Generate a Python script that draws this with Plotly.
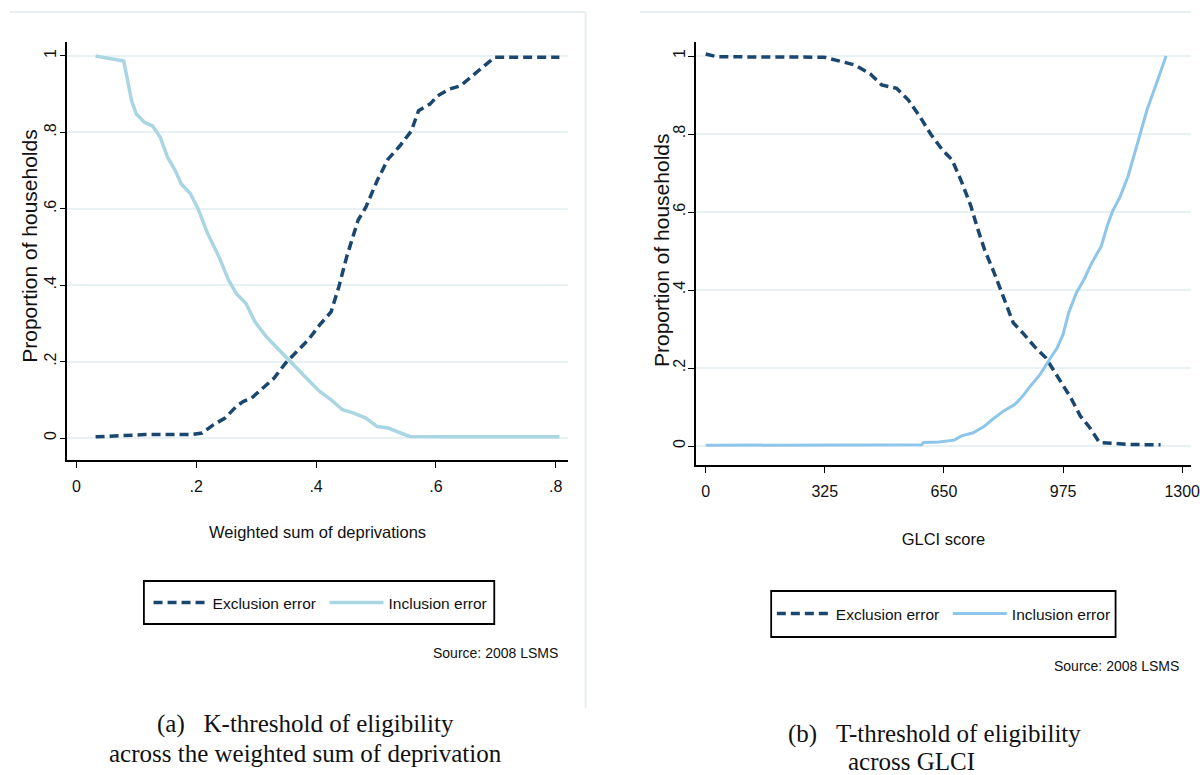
import plotly.graph_objects as go

# ---------------- Data: panel (a) ----------------
a_excl_x = [0.032, 0.114, 0.19, 0.21, 0.229, 0.248, 0.267, 0.279, 0.292, 0.311, 0.33, 0.349, 0.368, 0.387,
            0.406, 0.425, 0.438, 0.451, 0.47, 0.483, 0.502, 0.52, 0.54, 0.559, 0.571, 0.59, 0.603, 0.622,
            0.641, 0.66, 0.68, 0.698, 0.806]
a_excl_y = [0.003, 0.009, 0.009, 0.013, 0.035, 0.052, 0.083, 0.096, 0.104, 0.13, 0.157, 0.196, 0.226, 0.257,
            0.296, 0.33, 0.396, 0.474, 0.57, 0.604, 0.674, 0.73, 0.765, 0.804, 0.857, 0.874, 0.896, 0.913,
            0.922, 0.948, 0.974, 0.997, 0.997]
a_incl_x = [0.032, 0.063, 0.079, 0.092, 0.10, 0.114, 0.127, 0.14, 0.152, 0.165, 0.175, 0.19, 0.203, 0.219,
            0.238, 0.254, 0.267, 0.283, 0.298, 0.317, 0.343, 0.368, 0.387, 0.406, 0.425, 0.444, 0.463, 0.483,
            0.502, 0.52, 0.54, 0.556, 0.635, 0.806]
a_incl_y = [1.0, 0.99, 0.987, 0.883, 0.848, 0.826, 0.817, 0.787, 0.735, 0.70, 0.665, 0.64, 0.60, 0.535,
            0.474, 0.413, 0.378, 0.352, 0.304, 0.265, 0.222, 0.183, 0.152, 0.122, 0.10, 0.074, 0.065, 0.052,
            0.03, 0.026, 0.013, 0.004, 0.003, 0.003]

# ---------------- Data: panel (b) ----------------
b_excl_x = [0, 31, 323, 365, 407, 449, 480, 521, 553, 584, 615, 646, 672, 698, 724, 740, 761, 787, 813, 839,
            865, 896, 928, 964, 996, 1022, 1048, 1074, 1157, 1241]
b_excl_y = [1.005, 0.998, 0.997, 0.987, 0.977, 0.954, 0.926, 0.917, 0.887, 0.845, 0.798, 0.759, 0.734, 0.678,
            0.614, 0.563, 0.503, 0.444, 0.38, 0.316, 0.29, 0.256, 0.226, 0.171, 0.124, 0.077, 0.047, 0.009,
            0.004, 0.003]
b_incl_x = [0, 589, 594, 636, 678, 698, 730, 761, 782, 813, 844, 865, 886, 912, 938, 959, 975, 990, 1011,
            1032, 1053, 1079, 1095, 1110, 1131, 1152, 1178, 1204, 1230, 1256]
b_incl_y = [0.002, 0.003, 0.009, 0.01, 0.015, 0.026, 0.034, 0.051, 0.068, 0.09, 0.107, 0.128, 0.154, 0.183,
            0.222, 0.252, 0.286, 0.341, 0.392, 0.427, 0.469, 0.512, 0.563, 0.602, 0.64, 0.691, 0.776, 0.862,
            0.93, 1.0]

y_tickvals = [0, 0.2, 0.4, 0.6, 0.8, 1]
y_ticktext = ["0", ".2", ".4", ".6", ".8", "1"]
a_x_tickvals = [0, 0.2, 0.4, 0.6, 0.8]
a_x_ticktext = ["0", ".2", ".4", ".6", ".8"]
b_x_tickvals = [0, 325, 650, 975, 1300]
b_x_ticktext = ["0", "325", "650", "975", "1300"]

NAVY = "#1a476f"
LIGHT_A = "#a9d6e2"
LIGHT_B = "#8ec5ea"
GRID = "#e8f1f3"
NARROW = "Liberation Sans, Arial, sans-serif"
SANS = "Liberation Sans, Arial, sans-serif"
SERIF = "Liberation Serif, DejaVu Serif, serif"

W, H = 1200, 775

fig = go.Figure()
dash = "9px,5px"
fig.add_trace(go.Scatter(x=a_excl_x, y=a_excl_y, mode="lines", name="Exclusion error",
                         line=dict(color=NAVY, width=3.5, dash=dash), xaxis="x", yaxis="y", legend="legend"))
fig.add_trace(go.Scatter(x=a_incl_x, y=a_incl_y, mode="lines", name="Inclusion error",
                         line=dict(color=LIGHT_A, width=3.5), xaxis="x", yaxis="y", legend="legend"))
fig.add_trace(go.Scatter(x=b_excl_x, y=b_excl_y, mode="lines", name="Exclusion error",
                         line=dict(color=NAVY, width=3.5, dash=dash), xaxis="x2", yaxis="y2", legend="legend2"))
fig.add_trace(go.Scatter(x=b_incl_x, y=b_incl_y, mode="lines", name="Inclusion error",
                         line=dict(color=LIGHT_B, width=3), xaxis="x2", yaxis="y2", legend="legend2"))


def px_x(p):
    return p / W


def px_y(p):
    return 1 - p / H


common_x = dict(showline=True, linecolor="black", linewidth=1.5, ticks="outside", ticklen=6,
                tickwidth=1.2, tickcolor="black", showgrid=False, zeroline=False,
                ticklabeloverflow="allow", ticklabelstandoff=5,
                tickfont=dict(family=NARROW, size=16, color="#111"),
                title_font=dict(family=NARROW, size=16.5, color="#111"))
common_y = dict(showline=True, linecolor="black", linewidth=1.5, ticks="outside", ticklen=6,
                tickwidth=1.2, tickcolor="black", showgrid=True, gridcolor=GRID, gridwidth=1.5,
                zeroline=False, tickangle=-90, tickvals=y_tickvals, ticktext=y_ticktext,
                ticklabelstandoff=-3,
                tickfont=dict(family=SANS, size=16, color="#111"))

legend_common = dict(orientation="h", borderwidth=0, bgcolor="rgba(0,0,0,0)", itemwidth=54,
                     entrywidth=107, xanchor="center", yanchor="middle",
                     font=dict(family=NARROW, size=15.5, color="#111"), traceorder="normal")

fig.update_layout(
    width=W, height=H, margin=dict(l=0, r=0, t=0, b=0),
    paper_bgcolor="white", plot_bgcolor="white", showlegend=True,
    xaxis=dict(domain=[px_x(68), px_x(572)], range=[-0.0149, 0.8199], anchor="y",
               tickvals=a_x_tickvals, ticktext=a_x_ticktext,
               title=dict(text="Weighted sum of deprivations", standoff=32), **common_x),
    yaxis=dict(domain=[px_y(460), px_y(42)], range=[-0.0576, 1.0366], anchor="x", **common_y),
    xaxis2=dict(domain=[px_x(701), 1.0], range=[-27.1, 1324], anchor="y2",
                tickvals=b_x_tickvals, ticktext=b_x_ticktext,
                title=dict(text="GLCI score", standoff=34), **common_x),
    yaxis2=dict(domain=[px_y(465), px_y(42)], range=[-0.0487, 1.0359], anchor="x2", **common_y),
    legend=dict(x=px_x(327), y=px_y(603), **legend_common),
    legend2=dict(x=px_x(955), y=px_y(614), **legend_common),
)

# y-axis titles (rotated)
YT = dict(family=SANS, size=21, color="#111")
fig.add_annotation(text="Proportion of households", xref="paper", yref="paper", x=px_x(30), y=px_y(246),
                   xanchor="center", yanchor="middle", textangle=-90, showarrow=False, font=YT)
fig.add_annotation(text="Proportion of households", xref="paper", yref="paper", x=px_x(667), y=px_y(250),
                   xanchor="center", yanchor="middle", textangle=-90, showarrow=False, font=YT)

# legend frames
fig.add_shape(type="rect", xref="paper", yref="paper", x0=px_x(145), x1=px_x(498), y0=px_y(581), y1=px_y(624),
              line=dict(color="black", width=1.8), fillcolor="rgba(0,0,0,0)", layer="below")
fig.add_shape(type="rect", xref="paper", yref="paper", x0=px_x(777), x1=px_x(1124), y0=px_y(591), y1=px_y(637),
              line=dict(color="black", width=1.8), fillcolor="rgba(0,0,0,0)", layer="below")

# light frame rules around each Stata graph region
fig.add_shape(type="line", xref="paper", yref="paper", x0=px_x(10), x1=px_x(590), y0=px_y(12), y1=px_y(12),
              line=dict(color="#e6eef0", width=2))
fig.add_shape(type="line", xref="paper", yref="paper", x0=px_x(590), x1=px_x(590), y0=px_y(12), y1=px_y(708),
              line=dict(color="#e6eef0", width=2))
fig.add_shape(type="line", xref="paper", yref="paper", x0=px_x(645), x1=1.0, y0=px_y(12), y1=px_y(12),
              line=dict(color="#e6eef0", width=2))

# source notes
fig.add_annotation(text="Source: 2008 LSMS", xref="paper", yref="paper", x=px_x(564), y=px_y(653),
                   xanchor="right", yanchor="middle", showarrow=False,
                   font=dict(family=NARROW, size=14, color="#111"))
fig.add_annotation(text="Source: 2008 LSMS", xref="paper", yref="paper", x=px_x(1190), y=px_y(666),
                   xanchor="right", yanchor="middle", showarrow=False,
                   font=dict(family=NARROW, size=14, color="#111"))

# captions
nb = "\u00a0"
CAP = dict(family=SERIF, size=25, color="#111")
fig.add_annotation(text="(a)" + nb * 3 + "K-threshold of eligibility", xref="paper", yref="paper",
                   x=px_x(308), y=px_y(724), xanchor="center", yanchor="middle", showarrow=False, font=CAP)
fig.add_annotation(text="across the weighted sum of deprivation", xref="paper", yref="paper",
                   x=px_x(308), y=px_y(753), xanchor="center", yanchor="middle", showarrow=False, font=CAP)
fig.add_annotation(text="(b)" + nb * 3 + "T-threshold of eligibility", xref="paper", yref="paper",
                   x=px_x(942), y=px_y(734), xanchor="center", yanchor="middle", showarrow=False, font=CAP)
fig.add_annotation(text="across GLCI", xref="paper", yref="paper",
                   x=px_x(918), y=px_y(761), xanchor="center", yanchor="middle", showarrow=False, font=CAP)

fig.write_html("out.html", config={"displayModeBar": False},
               post_script="document.body.style.margin='0';document.body.style.overflow='hidden';")
